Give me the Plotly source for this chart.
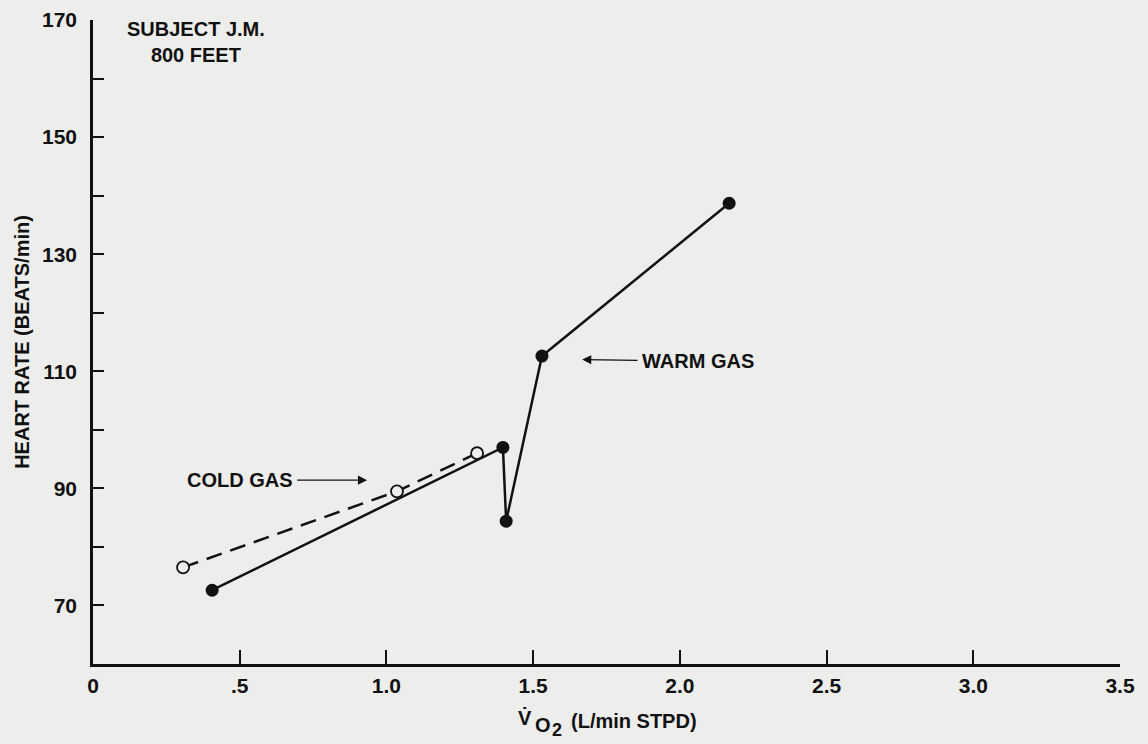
import plotly.graph_objects as go

# Data
warm_x = [0.406, 1.397, 1.408, 1.530, 2.168]
warm_y = [72.6, 97.0, 84.4, 112.6, 138.7]
cold_x = [0.307, 1.036, 1.309]
cold_y = [76.5, 89.5, 96.0]

y_tickvals = [60, 70, 80, 90, 100, 110, 120, 130, 140, 150, 160, 170]
y_ticktext = ["", "70", "", "90", "", "110", "", "130", "", "150", "", "170"]
x_tickvals = [0, 0.5, 1.0, 1.5, 2.0, 2.5, 3.0, 3.5]
x_ticktext = ["0", ".5", "1.0", "1.5", "2.0", "2.5", "3.0", "3.5"]

BG = "#ededeb"
INK = "#111111"
FONT = "Liberation Sans"

fig = go.Figure()
fig.add_trace(go.Scatter(
    x=cold_x, y=cold_y, mode="lines+markers",
    line=dict(color=INK, width=2.5, dash="16px,9px"),
    marker=dict(symbol="circle", size=12, color=BG, line=dict(color=INK, width=1.8)),
    showlegend=False, name="Cold gas"))
fig.add_trace(go.Scatter(
    x=warm_x, y=warm_y, mode="lines+markers",
    line=dict(color=INK, width=2.5),
    marker=dict(symbol="circle", size=13, color=INK),
    showlegend=False, name="Warm gas"))


def bold(size):
    return dict(family=FONT, size=size, color=INK, weight="bold")


fig.update_layout(
    width=1148, height=744,
    margin=dict(l=93, r=28, t=20, b=80),
    paper_bgcolor=BG, plot_bgcolor=BG,
    font=dict(family=FONT, color=INK),
    xaxis=dict(range=[0, 3.5], tickvals=x_tickvals, ticktext=x_ticktext,
               ticks="inside", ticklen=14, tickwidth=1.5, tickcolor=INK,
               showline=True, linecolor=INK, linewidth=2.5,
               showgrid=False, zeroline=False, automargin=False,
               tickfont=bold(21), ticklabelstandoff=1),
    yaxis=dict(range=[60, 170], tickvals=y_tickvals, ticktext=y_ticktext,
               ticks="inside", ticklen=11, tickwidth=1.5, tickcolor=INK,
               showline=True, linecolor=INK, linewidth=2.5,
               showgrid=False, zeroline=False, automargin=False,
               tickfont=bold(21), ticklabelstandoff=9,
               title=dict(text="HEART RATE (BEATS/min)", standoff=8, font=bold(20))),
)

# x-axis title, built from pieces so the subscripts keep their size
title_parts = [
    ("V̇", 0.4120, -0.0831, 20),
    ("O", 0.4284, -0.0940, 20),
    ("2", 0.4450, -0.1018, 18),
    ("(L/min STPD)", 0.4635, -0.0878, 20),
]
for txt, px, py, sz in title_parts:
    fig.add_annotation(xref="paper", yref="paper", x=px, y=py,
                       xanchor="left", yanchor="middle", text=txt,
                       showarrow=False, font=bold(sz))

# Subject label
fig.add_annotation(x=0.351, y=166.3, xref="x", yref="y",
                   text="SUBJECT J.M.<br>800 FEET", showarrow=False, align="center",
                   font=bold(20))

# Cold gas label with arrow
fig.add_annotation(x=0.934, y=91.4, ax=0.50, ay=91.4, xref="x", yref="y",
                   axref="x", ayref="y", text="COLD GAS", showarrow=True,
                   arrowhead=2, arrowsize=1.3, arrowwidth=1.4, arrowcolor=INK,
                   standoff=0, borderpad=4, font=bold(20))

# Warm gas label with arrow
fig.add_annotation(x=1.667, y=112.0, ax=2.062, ay=111.7, xref="x", yref="y",
                   axref="x", ayref="y", text="WARM GAS", showarrow=True,
                   arrowhead=2, arrowsize=1.3, arrowwidth=1.4, arrowcolor=INK,
                   standoff=0, borderpad=4, font=bold(20))

fig.write_html("out.html")
